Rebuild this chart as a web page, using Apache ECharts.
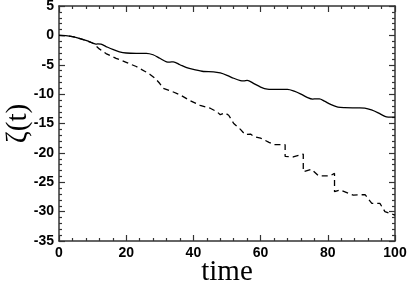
<!DOCTYPE html>
<html>
<head>
<meta charset="utf-8">
<script src="https://cdn.jsdelivr.net/npm/echarts@6/dist/echarts.min.js"></script>
<style>html,body{margin:0;padding:0;background:#fff;}#c{width:409px;height:282px;}</style>
</head>
<body>
<div id="c"></div>
<script>
// Solid curve
var solidTime = [0,2,4,6,8,10,11,11.5,12.5,14,16,18,20,23,26,28,30,32,33,34,36,38,40,43,46,48,50,52,54,55,56,58,60,62,65,68,70,72,74,75.5,76.5,77.5,79,81,83,85,89,91,93,95,97,98,100];
var solidVal  = [0,-0.05,-0.2,-0.5,-0.85,-1.3,-1.5,-1.45,-1.5,-1.9,-2.4,-2.8,-3.0,-3.05,-3.05,-3.3,-3.9,-4.5,-4.55,-4.5,-5.0,-5.5,-5.8,-6.15,-6.2,-6.4,-6.8,-7.3,-7.7,-7.75,-7.65,-8.2,-8.8,-9.15,-9.2,-9.2,-9.5,-10.0,-10.6,-10.85,-10.8,-10.8,-11.2,-11.8,-12.2,-12.3,-12.35,-12.4,-12.7,-13.2,-13.8,-13.9,-13.9];
// Dashed curve
var dashTime = [0,2,4,6,8,10,11,12,14,17,20,23,25.5,27,28.6,30,31,33,36,39,42,45,47,48,49.4,50.5,52,54,55.4,57,58,60,62.5,64,67.3,67.3,69.7,72.7,72.7,75.2,77.2,80.7,82,82,83.6,87.6,91.1,93.1,95.5,97,98.5,100];
var dashVal  = [0,-0.05,-0.2,-0.5,-0.85,-1.3,-1.8,-2.3,-3.1,-3.9,-4.6,-5.3,-6.1,-6.6,-7.3,-8.2,-9.0,-9.4,-10.1,-11.1,-11.9,-12.4,-13.0,-13.5,-13.2,-13.6,-15.0,-16.0,-16.9,-16.8,-17.2,-17.5,-18.2,-18.6,-18.6,-20.6,-20.7,-20.2,-23.2,-22.8,-23.9,-23.9,-23.5,-26.6,-26.3,-27.2,-27.1,-28.6,-28.6,-30.0,-30.3,-30.6];
var xTicks = [0,20,40,60,80,100];
var yTicks = [5,0,-5,-10,-15,-20,-25,-30,-35];

function pairs(t, v){ return t.map(function(x,i){ return [x, v[i]]; }); }

var axisColor = '#333';
var labelStyle = {fontFamily:'Liberation Sans, Arial, sans-serif', fontWeight:'bold', fontSize:14, color:'#000'};
var nameStyle = {fontFamily:'Liberation Serif, Times New Roman, serif', fontSize:29, color:'#000'};
function xAx(pos, showLabel, name){
  return {
    type:'value', position:pos, min:xTicks[0], max:xTicks[xTicks.length-1], interval:20,
    name: name || '', nameLocation:'middle', nameGap:17, nameMoveOverlap:false, nameTextStyle:nameStyle,
    axisLine:{show:true, onZero:false, lineStyle:{color:axisColor, width:1.5}},
    axisTick:{show:true, inside:true, length:6, lineStyle:{color:axisColor, width:1.2}},
    minorTick:{show:true, splitNumber:5, length:3, lineStyle:{color:axisColor, width:1.2}},
    axisLabel:Object.assign({show:showLabel, margin:5}, labelStyle),
    splitLine:{show:false}
  };
}
function yAx(pos, showLabel, name){
  return {
    type:'value', position:pos, min:yTicks[yTicks.length-1], max:yTicks[0], interval:5,
    name: name || '', nameLocation:'middle', nameGap:26, nameMoveOverlap:false, nameTextStyle:nameStyle,
    axisLine:{show:true, onZero:false, lineStyle:{color:axisColor, width:1.5}},
    axisTick:{show:true, inside:true, length:6, lineStyle:{color:axisColor, width:1.2}},
    minorTick:{show:true, splitNumber:5, length:3, lineStyle:{color:axisColor, width:1.2}},
    axisLabel:Object.assign({show:showLabel, margin:5}, labelStyle),
    splitLine:{show:false}
  };
}

var chart = echarts.init(document.getElementById('c'), null, {renderer:'canvas'});
chart.setOption({
  animation:false,
  backgroundColor:'#fff',
  grid:{left:59, right:14, top:6, bottom:41, containLabel:false, outerBoundsMode:'none'},
  xAxis:[xAx('bottom', true, 'time'), xAx('top', false)],
  yAxis:[yAx('left', true, 'ζ(t)'), yAx('right', false)],
  series:[
    {type:'line', xAxisIndex:0, yAxisIndex:0, data:pairs(solidTime, solidVal), smooth:0.3, showSymbol:false,
     lineStyle:{color:'#000', width:1.3}},
    {type:'line', xAxisIndex:0, yAxisIndex:0, data:pairs(dashTime, dashVal), smooth:false, showSymbol:false,
     lineStyle:{color:'#000', width:1.3, type:[6,4]}}
  ]
});
</script>
</body>
</html>
